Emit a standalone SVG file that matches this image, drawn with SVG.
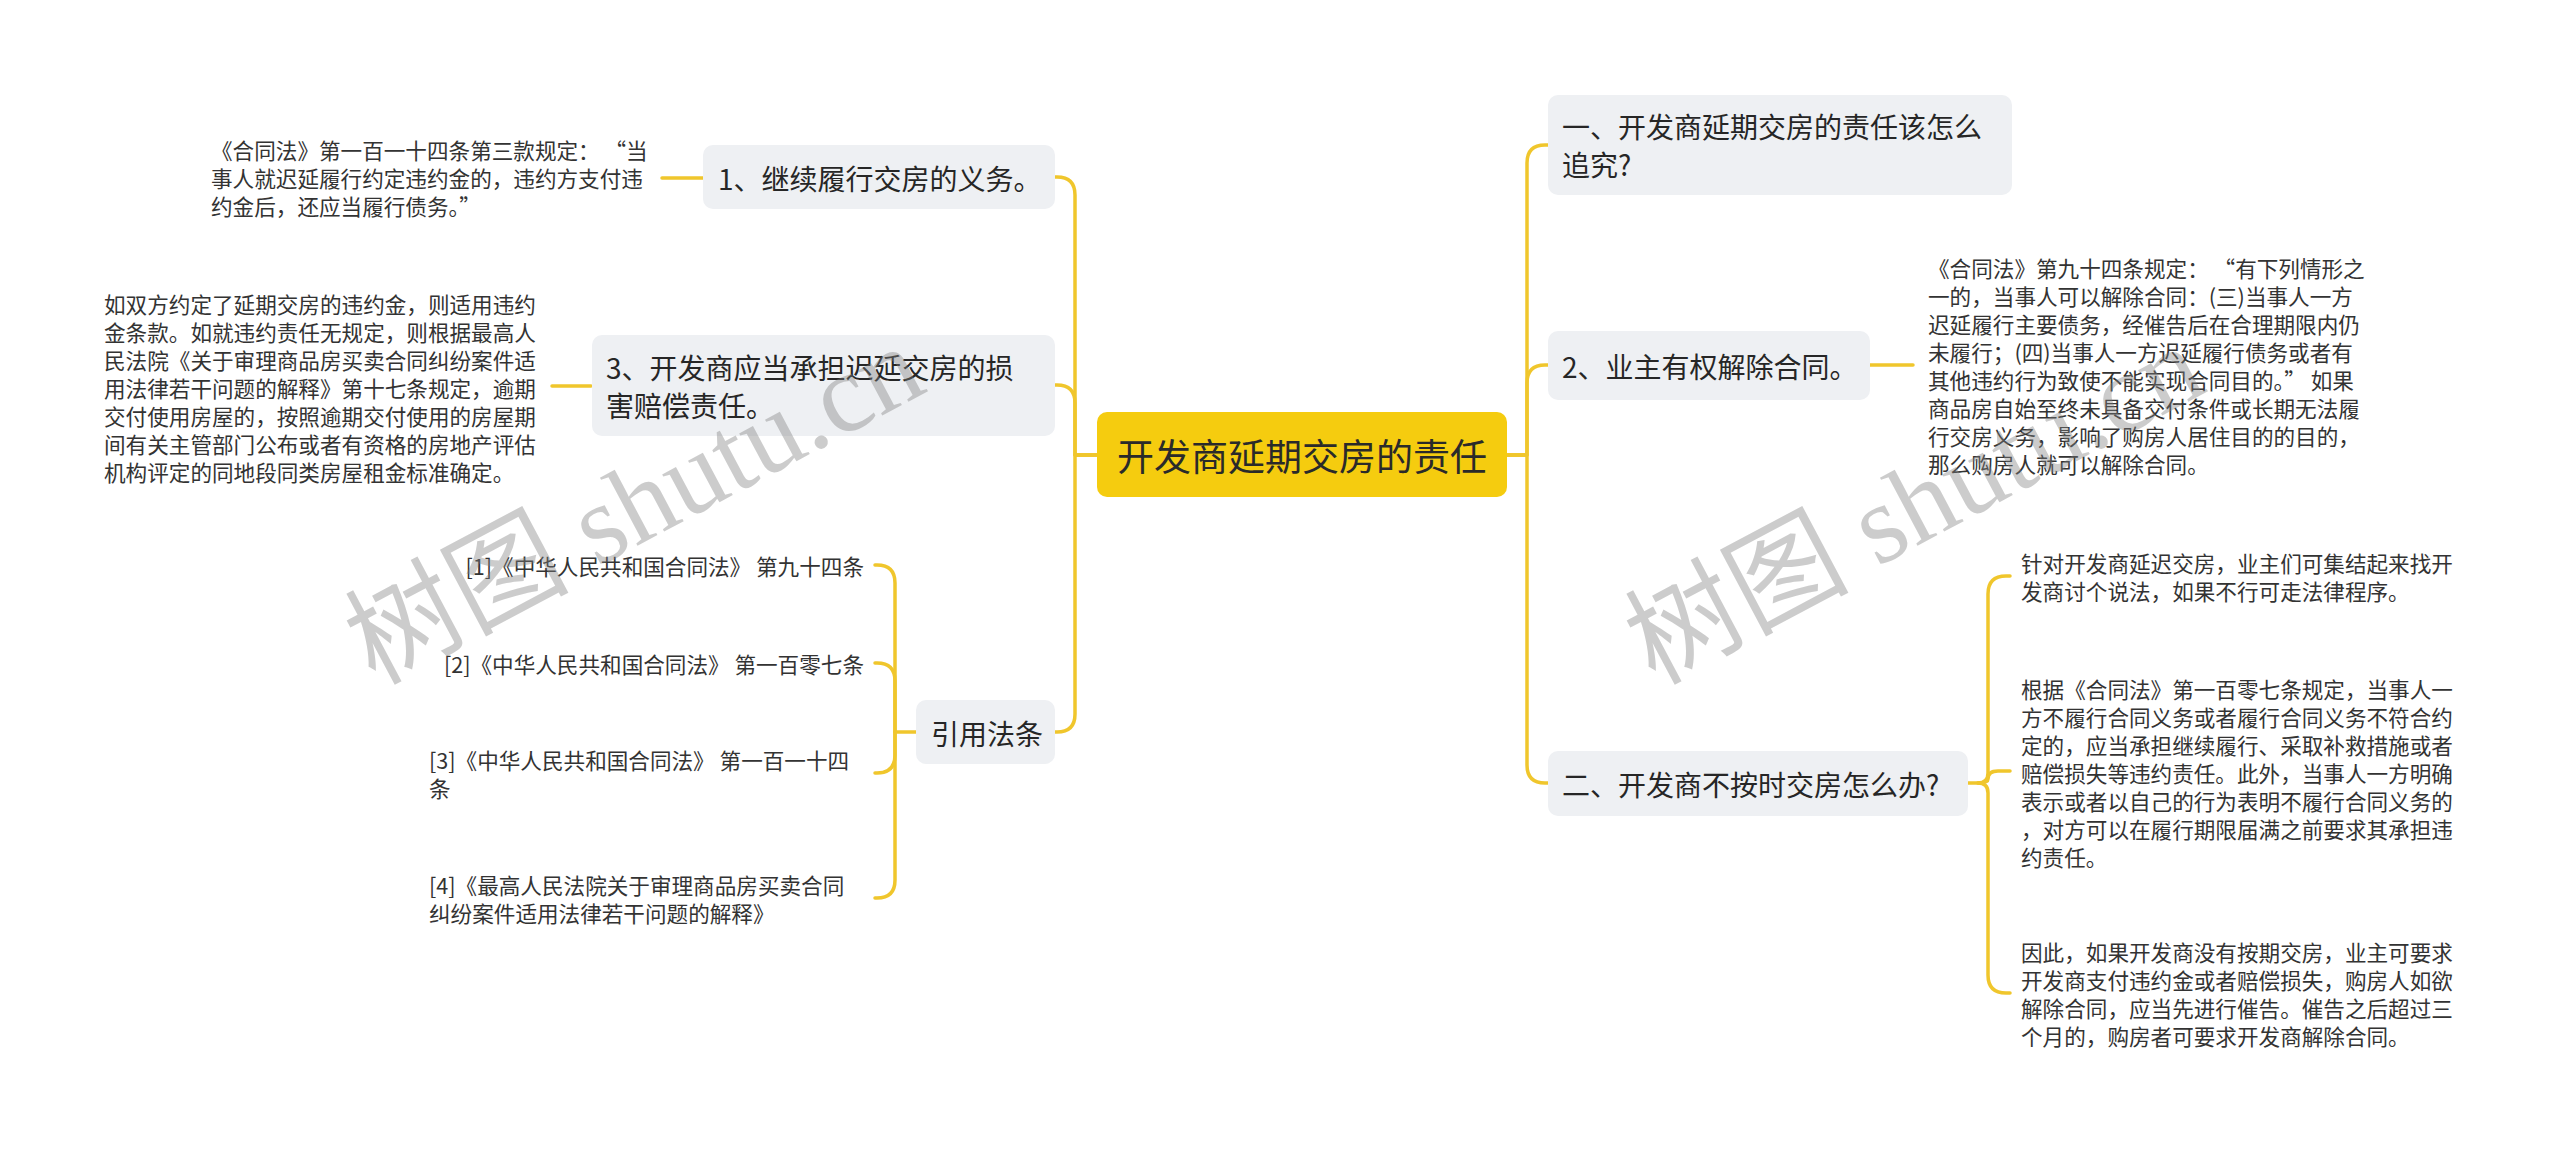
<svg xmlns="http://www.w3.org/2000/svg" width="2560" height="1152" viewBox="0 0 2560 1152">
<style>
.bg{fill:#ffffff}
.root{fill:#F5CC0F}
.node{fill:#EEF0F3}
.t{font-family:"Noto Sans CJK SC","Noto Sans",sans-serif;fill:#262626;dominant-baseline:central}
.tr{font-size:37px;fill:#2a2a2a}
.tb{font-size:28px}
.tl{font-size:21.6px;fill:#333333}
.c{fill:none;stroke:#F0C62C;stroke-width:3.5;stroke-linecap:round;stroke-linejoin:round}
.wm{font-family:"Liberation Serif","Noto Sans CJK SC",serif;font-size:112px;fill:#808080;fill-opacity:0.4}
</style>
<rect class="bg" x="0" y="0" width="2560" height="1152"/>

<g id="connectors">
  <!-- right side -->
  <path class="c" d="M1507,455 H1527 V163 Q1527,145 1545,145 H1548"/>
  <path class="c" d="M1507,455 H1527 V383 Q1527,365 1545,365 H1548"/>
  <path class="c" d="M1507,455 H1527 V765 Q1527,783 1545,783 H1548"/>
  <path class="c" d="M1870,365 H1913"/>
  <path class="c" d="M1968,783 H1978 Q1988,783 1988,773 V594 Q1988,576 2006,576 H2010"/>
  <path class="c" d="M1978,783 Q1988,783 1988,779 Q1988,771 1998,771 H2010"/>
  <path class="c" d="M1978,783 Q1988,783 1988,793 V975 Q1988,993 2006,993 H2010"/>
  <!-- left side -->
  <path class="c" d="M1097,455 H1075 V195 Q1075,177 1057,177 H1055"/>
  <path class="c" d="M1097,455 H1075 V403 Q1075,385 1057,385 H1055"/>
  <path class="c" d="M1097,455 H1075 V714 Q1075,732 1057,732 H1055"/>
  <path class="c" d="M703,178 H662"/>
  <path class="c" d="M591,386 H552"/>
  <path class="c" d="M916,732 H895 V583 Q895,565 877,565 H875"/>
  <path class="c" d="M895,732 V681 Q895,663 877,663 H875"/>
  <path class="c" d="M895,732 V755 Q895,773 877,773 H875"/>
  <path class="c" d="M895,732 V880 Q895,898 877,898 H875"/>
</g>

<g id="root">
  <rect class="root" x="1097" y="412" width="410" height="85" rx="10"/>
  <text class="t tr" x="1302" y="455" text-anchor="middle">开发商延期交房的责任</text>
</g>

<g id="r1">
  <rect class="node" x="1548" y="95" width="464" height="100" rx="10"/>
  <text class="t tb" x="1562"><tspan x="1562" y="126">一、开发商延期交房的责任该怎么</tspan><tspan x="1562" y="164">追究?</tspan></text>
</g>

<g id="r2">
  <rect class="node" x="1548" y="331" width="322" height="69" rx="10"/>
  <text class="t tb" x="1562" y="366">2、业主有权解除合同。</text>
</g>

<g id="r2-leaf">
  <text class="t tl"><tspan x="1928" y="267">《合同法》第九十四条规定： “有下列情形之</tspan><tspan x="1928" y="295">一的，当事人可以解除合同：(三)当事人一方</tspan><tspan x="1928" y="323">迟延履行主要债务，经催告后在合理期限内仍</tspan><tspan x="1928" y="351">未履行；(四)当事人一方迟延履行债务或者有</tspan><tspan x="1928" y="379">其他违约行为致使不能实现合同目的。” 如果</tspan><tspan x="1928" y="407">商品房自始至终未具备交付条件或长期无法履</tspan><tspan x="1928" y="435">行交房义务，影响了购房人居住目的的目的，</tspan><tspan x="1928" y="463">那么购房人就可以解除合同。</tspan></text>
</g>

<g id="r3">
  <rect class="node" x="1548" y="751" width="420" height="65" rx="10"/>
  <text class="t tb" x="1562" y="784">二、开发商不按时交房怎么办?</text>
</g>

<g id="r3-a">
  <text class="t tl"><tspan x="2021" y="562">针对开发商延迟交房，业主们可集结起来找开</tspan><tspan x="2021" y="590">发商讨个说法，如果不行可走法律程序。</tspan></text>
</g>

<g id="r3-b">
  <text class="t tl"><tspan x="2021" y="688">根据《合同法》第一百零七条规定，当事人一</tspan><tspan x="2021" y="716">方不履行合同义务或者履行合同义务不符合约</tspan><tspan x="2021" y="744">定的，应当承担继续履行、采取补救措施或者</tspan><tspan x="2021" y="772">赔偿损失等违约责任。此外，当事人一方明确</tspan><tspan x="2021" y="800">表示或者以自己的行为表明不履行合同义务的</tspan><tspan x="2021" y="828">，对方可以在履行期限届满之前要求其承担违</tspan><tspan x="2021" y="856">约责任。</tspan></text>
</g>

<g id="r3-c">
  <text class="t tl"><tspan x="2021" y="951">因此，如果开发商没有按期交房，业主可要求</tspan><tspan x="2021" y="979">开发商支付违约金或者赔偿损失，购房人如欲</tspan><tspan x="2021" y="1007">解除合同，应当先进行催告。催告之后超过三</tspan><tspan x="2021" y="1035">个月的，购房者可要求开发商解除合同。</tspan></text>
</g>

<g id="l1">
  <rect class="node" x="703" y="145" width="352" height="64" rx="10"/>
  <text class="t tb" x="718" y="178">1、继续履行交房的义务。</text>
</g>

<g id="l1-leaf">
  <text class="t tl"><tspan x="211" y="149">《合同法》第一百一十四条第三款规定： “当</tspan><tspan x="211" y="177">事人就迟延履行约定违约金的，违约方支付违</tspan><tspan x="211" y="205">约金后，还应当履行债务。”</tspan></text>
</g>

<g id="l2">
  <rect class="node" x="592" y="335" width="463" height="101" rx="10"/>
  <text class="t tb"><tspan x="606" y="367">3、开发商应当承担迟延交房的损</tspan><tspan x="606" y="405">害赔偿责任。</tspan></text>
</g>

<g id="l2-leaf">
  <text class="t tl"><tspan x="104" y="303">如双方约定了延期交房的违约金，则适用违约</tspan><tspan x="104" y="331">金条款。如就违约责任无规定，则根据最高人</tspan><tspan x="104" y="359">民法院《关于审理商品房买卖合同纠纷案件适</tspan><tspan x="104" y="387">用法律若干问题的解释》第十七条规定，逾期</tspan><tspan x="104" y="415">交付使用房屋的，按照逾期交付使用的房屋期</tspan><tspan x="104" y="443">间有关主管部门公布或者有资格的房地产评估</tspan><tspan x="104" y="471">机构评定的同地段同类房屋租金标准确定。</tspan></text>
</g>

<g id="l3">
  <rect class="node" x="916" y="700" width="139" height="64" rx="10"/>
  <text class="t tb" x="931" y="733">引用法条</text>
</g>

<g id="cite1"><text class="t tl" x="864" y="565" text-anchor="end">[1]《中华人民共和国合同法》 第九十四条</text></g>
<g id="cite2"><text class="t tl" x="864" y="663" text-anchor="end">[2]《中华人民共和国合同法》 第一百零七条</text></g>
<g id="cite3"><text class="t tl"><tspan x="429" y="759">[3]《中华人民共和国合同法》 第一百一十四</tspan><tspan x="429" y="787">条</tspan></text></g>
<g id="cite4"><text class="t tl"><tspan x="429" y="884">[4]《最高人民法院关于审理商品房买卖合同</tspan><tspan x="429" y="912">纠纷案件适用法律若干问题的解释》</tspan></text></g>

<g id="watermarks">
  <text class="wm" transform="translate(652,538) rotate(-28)" text-anchor="middle">树图 shutu.cn</text>
  <text class="wm" transform="translate(1932,538) rotate(-28)" text-anchor="middle">树图 shutu.cn</text>
</g>
</svg>
